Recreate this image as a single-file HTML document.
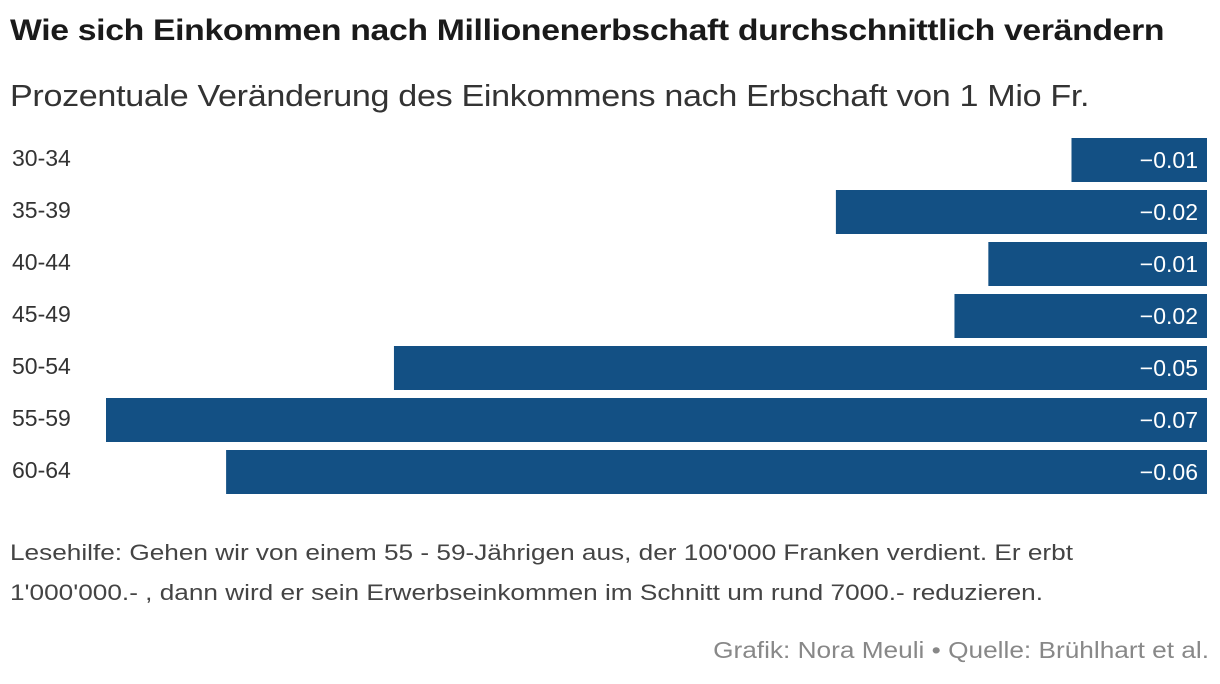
<!DOCTYPE html>
<html><head><meta charset="utf-8"><style>
body{margin:0;width:1220px;height:684px;background:#fff;font-family:"Liberation Sans",sans-serif;position:relative;overflow:hidden;color:#222}
.t{position:absolute;left:10px;top:14px;font-size:30px;font-weight:bold;color:#1a1a1a;letter-spacing:-0.3px;white-space:nowrap;transform:scaleX(1.125);transform-origin:left top}
.s{position:absolute;left:10px;top:78px;font-size:31px;color:#333;letter-spacing:-0.3px;white-space:nowrap;transform:scaleX(1.1);transform-origin:left top}
.n{position:absolute;left:10px;top:533px;font-size:22px;color:#444;line-height:40px;white-space:nowrap;transform:scaleX(1.19);transform-origin:left top}
.c{position:absolute;right:11px;top:637px;font-size:23px;color:#888;white-space:nowrap;transform:scaleX(1.14);transform-origin:right top}
</style></head><body>
<div class="t">Wie sich Einkommen nach Millionenerbschaft durchschnittlich verändern</div>
<div class="s">Prozentuale Veränderung des Einkommens nach Erbschaft von 1 Mio Fr.</div>
<svg id="ch" width="1220" height="684" style="position:absolute;left:0;top:0"></svg>
<div class="n">Lesehilfe: Gehen wir von einem 55 - 59-Jährigen aus, der 100'000 Franken verdient. Er erbt<br>1'000'000.- , dann wird er sein Erwerbseinkommen im Schnitt um rund 7000.- reduzieren.</div>
<div class="c">Grafik: Nora Meuli • Quelle: Brühlhart et al.</div>
<script>
const categories=["30-34","35-39","40-44","45-49","50-54","55-59","60-64"];
const values=[-0.0088,-0.0241,-0.0142,-0.0164,-0.0528,-0.0715,-0.0637];
const xMin=-0.0715,xMax=0;
const x0=106,x1=1207;
function xs(v){return x0+(v-xMin)/(xMax-xMin)*(x1-x0);}
function ys(i){return 138+i*52;}
const svg=document.getElementById('ch');
const NS="http://www.w3.org/2000/svg";
categories.forEach((c,i)=>{
 const r=document.createElementNS(NS,'rect');
 const a=xs(values[i]),b=xs(0);
 r.setAttribute('x',a);r.setAttribute('y',ys(i));r.setAttribute('width',b-a);r.setAttribute('height',44);r.setAttribute('fill','#135084');
 
 
 svg.appendChild(r);
 const l=document.createElementNS(NS,'text');
 l.setAttribute('x',12);l.setAttribute('y',ys(i)+28);l.setAttribute('font-size','23');l.setAttribute('fill','#333');l.textContent=c;
 
 
 svg.appendChild(l);
 const v=document.createElementNS(NS,'text');
 v.setAttribute('x',1198);v.setAttribute('y',ys(i)+30);v.setAttribute('font-size','23');v.setAttribute('fill','#fff');v.setAttribute('text-anchor','end');
 v.textContent='\u2212'+Math.abs(values[i]).toFixed(2);
 
 
 svg.appendChild(v);
});
</script>
</body></html>
